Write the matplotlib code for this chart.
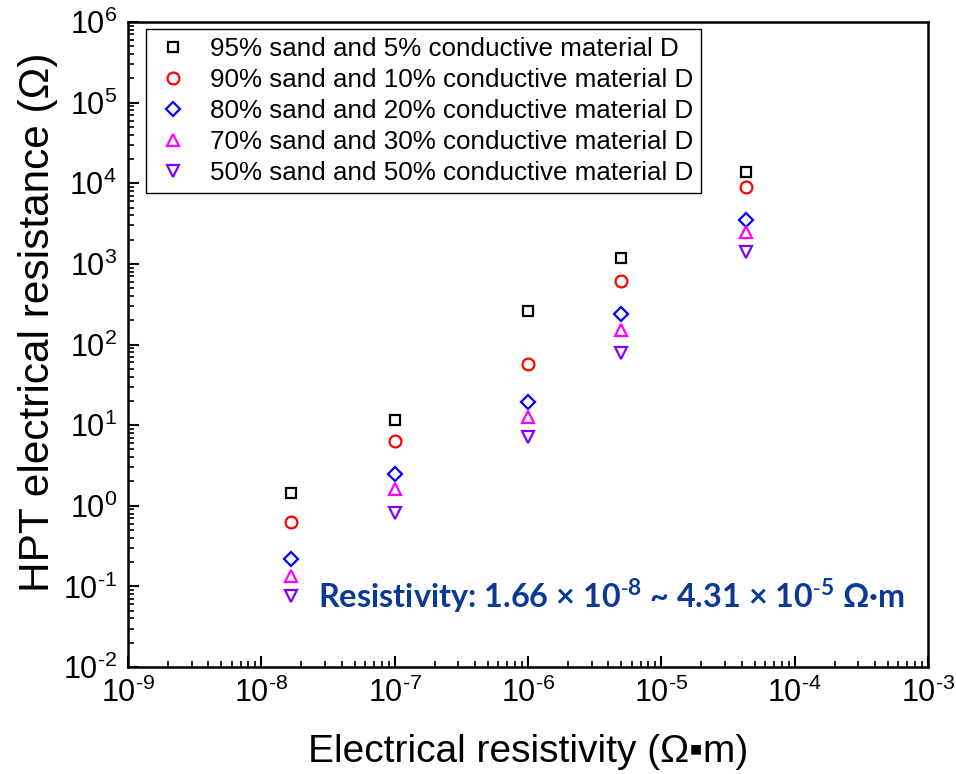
import matplotlib
matplotlib.use("Agg")
import math
import matplotlib.pyplot as plt
from matplotlib.ticker import LogLocator, NullFormatter, FuncFormatter

plt.rcParams['font.family'] = ['Liberation Sans', 'DejaVu Sans']
plt.rcParams['mathtext.fontset'] = 'custom'
plt.rcParams['mathtext.rm'] = 'Liberation Sans'
plt.rcParams['mathtext.bf'] = 'Lato:bold'

# Data
resistivity = [1.66e-8, 1.0e-7, 1.0e-6, 5.0e-6, 4.31e-5]
labels = [
    "95% sand and 5% conductive material D",
    "90% sand and 10% conductive material D",
    "80% sand and 20% conductive material D",
    "70% sand and 30% conductive material D",
    "50% sand and 50% conductive material D",
]
r_95_5 = [1.45, 11.5, 257, 1170, 13800]
r_90_10 = [0.63, 6.3, 58, 612, 9050]
r_80_20 = [0.216, 2.5, 19.4, 238, 3490]
r_70_30 = [0.136, 1.6, 12.7, 151, 2500]
r_50_50 = [0.076, 0.82, 7.2, 78, 1410]

series = [r_95_5, r_90_10, r_80_20, r_70_30, r_50_50]
markers = ['s', 'o', 'D', '^', 'v']
colors = ['#000000', '#FF0000', '#0000FF', '#FF00FF', '#7F00FF']
sizes = [7, 8.5, 7, 8.5, 8.5]

fig = plt.figure(figsize=(9.56, 7.74), dpi=100)
ax = fig.add_axes([128/956, 1-667/774, 800/956, 645/774])

for y, m, c, s, lab in zip(series, markers, colors, sizes, labels):
    ax.plot(resistivity, y, linestyle='none', marker=m, markersize=s,
            markerfacecolor='none', markeredgecolor=c, markeredgewidth=1.6,
            label=lab)

ax.set_xscale('log')
ax.set_yscale('log')
ax.set_xlim(1e-9, 1e-3)
ax.set_ylim(1e-2, 1e6)


def pow_fmt(v, pos):
    e = int(round(math.log10(v)))
    ex = r'\text{-}%d' % (-e) if e < 0 else '%d' % e
    return r'$\mathdefault{10^{%s}}$' % ex


ax.xaxis.set_major_locator(LogLocator(base=10, numticks=20))
ax.yaxis.set_major_locator(LogLocator(base=10, numticks=20))
ax.xaxis.set_major_formatter(FuncFormatter(pow_fmt))
ax.yaxis.set_major_formatter(FuncFormatter(pow_fmt))
ax.xaxis.set_minor_locator(LogLocator(base=10, subs=range(2, 10), numticks=100))
ax.yaxis.set_minor_locator(LogLocator(base=10, subs=range(2, 10), numticks=100))
ax.xaxis.set_minor_formatter(NullFormatter())
ax.yaxis.set_minor_formatter(NullFormatter())

ax.tick_params(which='major', direction='in', length=8, width=1.5,
               labelsize=22, top=False, right=False, pad=8)
ax.tick_params(which='minor', direction='in', length=4, width=1.2,
               top=False, right=False)
for sp in ax.spines.values():
    sp.set_linewidth(1.8)

ax.set_xlabel("Electrical resistivity (Ω▪m)", fontsize=28, labelpad=18)
ax.set_ylabel("HPT electrical resistance (Ω)", fontsize=30.5)
ax.yaxis.set_label_coords(-0.088, 0.535)

leg = ax.legend(loc='upper left', bbox_to_anchor=(0.0225, 0.989),
                borderaxespad=0, fontsize=18.7, frameon=True, fancybox=False,
                edgecolor='black', framealpha=1, numpoints=1,
                handlelength=1.5, handletextpad=0.65, labelspacing=0.27,
                borderpad=0.3)
leg.get_frame().set_linewidth(1.0)

ax.text(0.238, 0.092,
        r"Resistivity: 1.66 × 10$^{\mathbf{\text{-}8}}$ ~ 4.31 × 10$^{\mathbf{\text{-}5}}$ Ω·m",
        transform=ax.transAxes, fontsize=23.3, fontweight='bold',
        family=['Lato', 'DejaVu Sans'], color='#0B3A96',
        ha='left', va='baseline')

fig.savefig("out.png", dpi=100)
